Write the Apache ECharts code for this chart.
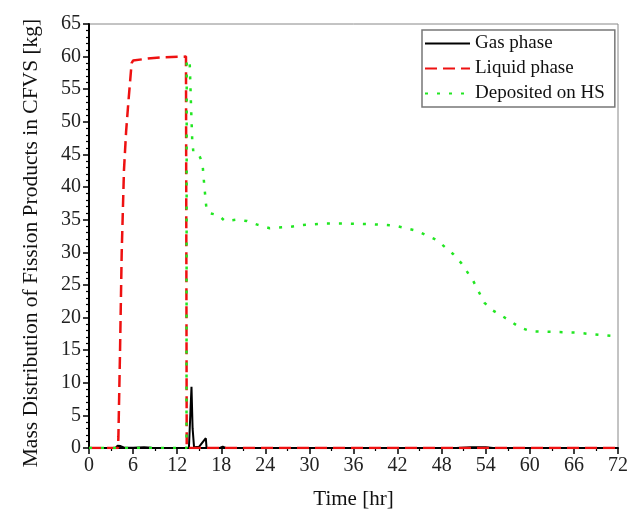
<!DOCTYPE html>
<html lang="en">
<head>
    <meta charset="utf-8">
    <title>Mass Distribution of Fission Products in CFVS</title>
    <script src="https://cdn.jsdelivr.net/npm/echarts@6/dist/echarts.min.js"></script>
    <style type="text/css">
        body {margin: 0; background: #fff;}
        #chart {width: 640px; height: 520px;}
    </style>
</head>
<body>
    <div id="chart"></div>
    <script>
        // [time hr, mass kg]
        var gasPhase = [
            [0, 0], [3.6, 0], [3.9, 0.35], [4.3, 0.3], [4.8, 0.05], [6, 0.05],
            [7.5, 0.1], [8.5, 0.05], [13.6, 0], [13.95, 9.4], [14.1, 3],
            [14.3, 0.1], [15.0, 0.2], [15.9, 1.5], [16.0, 0], [17.8, 0],
            [18.2, 0.2], [18.6, 0], [50, 0], [52, 0.1], [54, 0.1], [55, 0], [72, 0]
        ];
        var liquidPhase = [
            [0, 0], [3.95, 0], [4.0, 1.7], [4.22, 14.6], [4.45, 29.9], [4.76, 42.6],
            [5.05, 48.5], [5.35, 52.9], [5.8, 59.0], [6.0, 59.4], [8, 59.7],
            [10, 59.9], [13.2, 60], [13.3, 0], [72, 0]
        ];
        var depositedHS = [
            [0, 0], [13.27, 0], [13.3, 59.5], [13.7, 59.3], [13.9, 52], [14.05, 47.2],
            [14.2, 45.4], [14.7, 45.3], [15.1, 44.6], [15.45, 43.6], [15.7, 40.1],
            [16.0, 36.5], [16.4, 36.0], [17.6, 35.7], [18.5, 34.8], [20.1, 35.0],
            [21.5, 34.8], [23.0, 34.2], [24.6, 33.7], [27.3, 33.9], [29.1, 34.2],
            [32.2, 34.4], [35.5, 34.4], [38.6, 34.3], [41.6, 34.1], [44.6, 33.3],
            [47.3, 31.9], [49.6, 29.7], [50.7, 28.3], [52.3, 25.6], [53.8, 22.3],
            [54.8, 21.2], [57.3, 19.5], [58.6, 18.5], [60.1, 17.9], [63.1, 17.8],
            [66.4, 17.7], [67.9, 17.5], [71.1, 17.2], [72, 17.0]
        ];
        var seriesNames = ['Gas phase', 'Liquid phase', 'Deposited on HS'];

        var font = 'Liberation Serif';
        var chart = echarts.init(document.getElementById('chart'), null, {renderer: 'canvas'});
        chart.setOption({
            animation: false,
            backgroundColor: '#fff',
            grid: {
                left: 89, right: 22, top: 24, bottom: 72,
                show: true, borderColor: '#888', borderWidth: 1
            },
            legend: {
                orient: 'vertical', left: 422, top: 30,
                padding: [4, 10, 4, 2], itemGap: 6,
                itemWidth: 45, itemHeight: 14,
                borderColor: '#777', borderWidth: 1.5, backgroundColor: '#fff',
                itemStyle: {opacity: 0},
                textStyle: {fontFamily: font, fontSize: 19, color: '#111'},
                data: seriesNames
            },
            xAxis: {
                type: 'value', min: 0, max: 72, interval: 6,
                name: 'Time [hr]', nameLocation: 'middle', nameGap: 41,
                nameTextStyle: {fontFamily: font, fontSize: 21, color: '#111'},
                axisLine: {onZero: false, lineStyle: {color: '#000', width: 2}},
                axisTick: {length: 6, lineStyle: {color: '#000', width: 1.5}},
                minorTick: {show: true, splitNumber: 2, length: 3, lineStyle: {color: '#000', width: 1.2}},
                splitLine: {show: false},
                axisLabel: {fontFamily: font, fontSize: 20, color: '#222', margin: 8}
            },
            yAxis: {
                type: 'value', min: 0, max: 65, interval: 5,
                name: 'Mass Distribution of Fission Products in CFVS [kg]',
                nameLocation: 'middle', nameGap: 47,
                nameTextStyle: {fontFamily: font, fontSize: 21.5, color: '#111', padding: [0, 14, 0, 0]},
                axisLine: {onZero: false, lineStyle: {color: '#000', width: 2}},
                axisTick: {length: 6, lineStyle: {color: '#000', width: 1.5}},
                minorTick: {show: true, splitNumber: 5, length: 3, lineStyle: {color: '#000', width: 1.2}},
                splitLine: {show: false},
                axisLabel: {fontFamily: font, fontSize: 20, color: '#222', margin: 8}
            },
            series: [
                {
                    name: seriesNames[0], type: 'line', data: gasPhase,
                    showSymbol: false, symbol: 'none',
                    lineStyle: {color: '#000', width: 2},
                    itemStyle: {color: '#000'}
                },
                {
                    name: seriesNames[1], type: 'line', data: liquidPhase,
                    showSymbol: false, symbol: 'none',
                    lineStyle: {color: '#ee1111', width: 2.5, type: [12, 6]},
                    itemStyle: {color: '#ee1111'}
                },
                {
                    name: seriesNames[2], type: 'line', data: depositedHS,
                    showSymbol: false, symbol: 'none',
                    lineStyle: {color: '#22e622', width: 2.5, type: [3, 9]},
                    itemStyle: {color: '#22e622'}
                }
            ]
        });
    </script>
</body>
</html>
